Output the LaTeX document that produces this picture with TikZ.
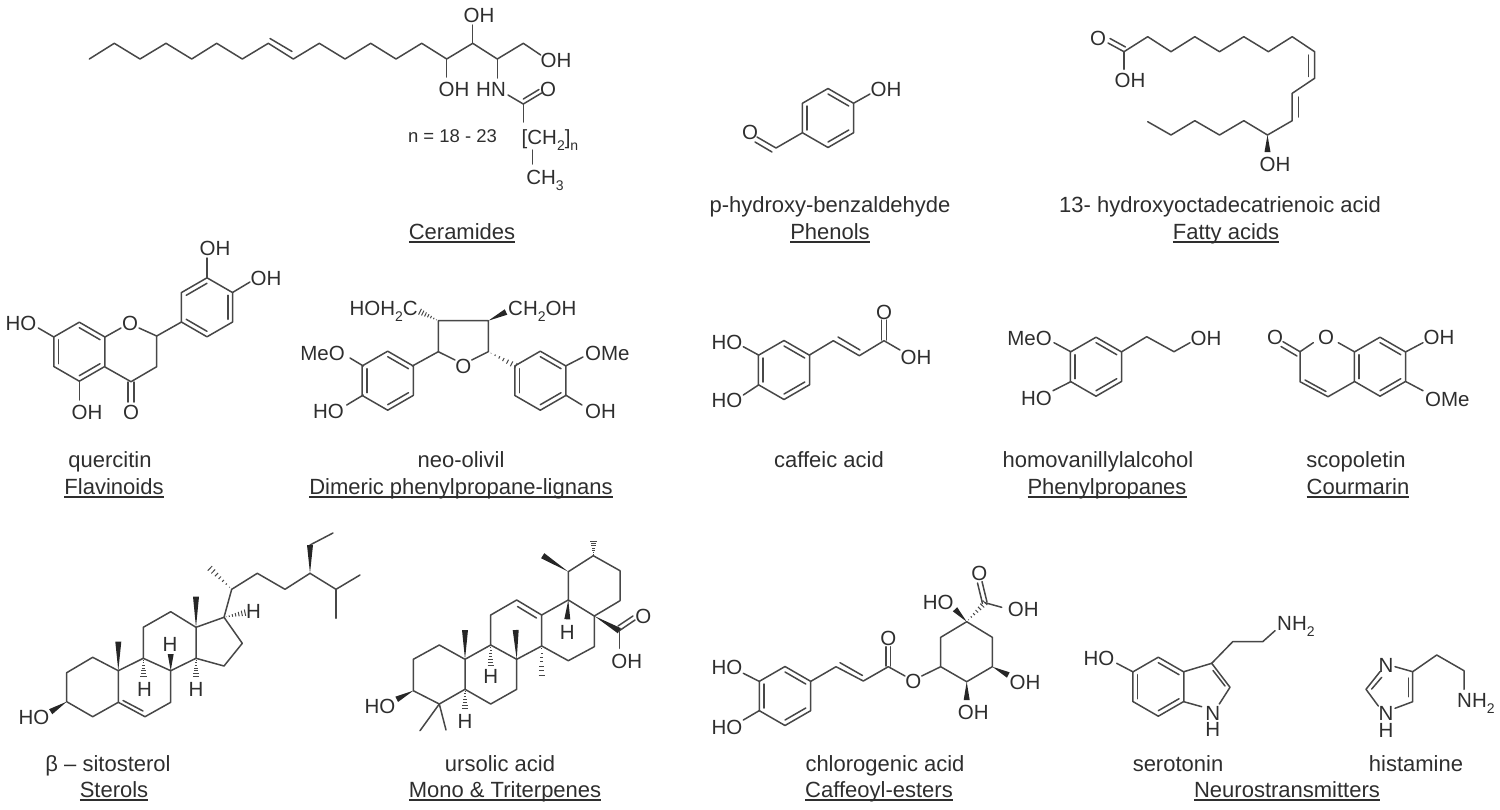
\documentclass[tikz,border=0pt]{standalone}
\usepackage{fontspec}
\setmainfont{Liberation Sans}
\usetikzlibrary{calc}
\newlength\capwd
\newcommand{\capul}[1]{\settowidth{\capwd}{#1}\rlap{\rule[-3.5pt]{\capwd}{1.3pt}}#1}
\newcommand{\sbs}[1]{\raisebox{-.28em}{\fontsize{14}{14}\selectfont #1}}
\newcommand{\benz}[3]{\begin{scope}[shift={(#1,#2)}]
    \draw [bond] (-90:29.5) -- (-30:29.5) -- (30:29.5) -- (90:29.5) -- (150:29.5) -- (210:29.5) -- cycle;
    \foreach \a in {#3} {\draw [bond] (\a:24) -- (\a+60:24);}
    \end{scope}}
\newcommand{\solidwedge}[2]{\fill [wedgefill] #1 -- ($#2!3pt!90:#1$) -- ($#2!3pt!-90:#1$) -- cycle;}
\newcommand{\hashwedge}[2]{\foreach \t in {.1,.25,.4,.55,.7,.85,1} {\draw [hashline] ($#1!\t!#2!\t*3.2pt!90:#1$) -- ($#1!\t!#2!\t*3.2pt!-90:#1$);}}
\tikzset{
    bond/.style={color=black!72, line width=1.5pt, line cap=round, line join=round},
    hashline/.style={color=black!72, line width=1pt},
    wedgefill/.style={fill=black!85},
    atom/.style={color=black!82, inner sep=0pt, text height=15pt, text depth=0pt, font=\fontsize{20.5}{24}\selectfont},
    nhatom/.style={color=black!82, inner sep=0pt, anchor=north, align=center, font=\fontsize{20.5}{16.5}\selectfont},
    capline/.style={color=black!82, inner sep=0pt, anchor=base, font=\fontsize{22}{26}\selectfont}
}
\begin{document}
\begin{tikzpicture}[x=1pt, y=-1pt]
    \useasboundingbox (0,0) rectangle (1500,809);

    \draw [bond] (89.3,59) -- (114.3,43.3) -- (140,59) -- (166,43.3) -- (191.7,59) -- (216.7,43.3) -- (242.3,59) -- (268.3,43.3) -- (293.3,59) -- (319.3,43.3) -- (345,59) -- (370.7,43.3) -- (396,59) -- (421.7,43.3) -- (446.7,59) -- (472.7,43.3) -- (497.3,59) -- (523.3,43.3) -- (540.7,55);
    \draw [bond] (270,38.5) -- (292,51.5);
    \draw [bond] (472.7,43.3) -- (472.7,25);
    \draw [bond] (446.7,59) -- (446.7,77);
    \draw [bond] (497.3,59) -- (497.3,78);
    \draw [bond] (508,95) -- (523.3,104) -- (541.7,93);
    \draw [bond] (523.3,99) -- (539,89.5);
    \draw [bond] (523.3,104) -- (523.3,122);
    \draw [bond] (532.7,150) -- (532.7,164);
    \node (ceroh1) at (479,15) [atom] {OH};
    \node (ceroh2) at (556,60) [atom] {OH};
    \node (ceroh3) at (454,89) [atom] {OH};
    \node (cernh) at (491,89) [atom] {HN};
    \node (cero) at (548,89) [atom] {O};
    \node (cerch2) at (521.5,137) [atom, anchor=west] {[CH\sbs{2}]\sbs{n}};
    \node (cerch3) at (545,177) [atom] {CH\sbs{3}};
    \node (cern) at (452.5,135) [atom, font=\fontsize{18.5}{20}\selectfont] {n = 18 - 23};
    \node (cercap) at (462,239) [capline] {\capul{Ceramides}};

    \benz{828}{118}{-90,30,150}
    \draw [bond] (854,103) -- (870,94);
    \draw [bond] (802,133) -- (776,148) -- (757,137);
    \draw [bond] (772,152) -- (755,142);
    \node (phoh) at (886,89) [atom] {OH};
    \node (pho) at (750,132) [atom] {O};
    \node (phname) at (830,212) [capline] {p-hydroxy-benzaldehyde};
    \node (phcap) at (830,239) [capline] {\capul{Phenols}};

    \draw [bond] (1108,43) -- (1124,51.7) -- (1147.7,36.7) -- (1171,51.7) -- (1194.8,36.7) -- (1219.5,51.7) -- (1243.8,36.7) -- (1268.4,51.7) -- (1292.2,36.7) -- (1314.6,51.7) -- (1314.6,78.3) -- (1292.2,93.3) -- (1292.2,120.7) -- (1267.5,135) -- (1243.8,120.7) -- (1219.5,135) -- (1194.8,120.7) -- (1171,135) -- (1147.7,121.7);
    \draw [bond] (1110,38.5) -- (1125.5,47);
    \draw [bond] (1124,51.7) -- (1124,69.3);
    \draw [bond] (1308.5,55) -- (1308.5,76.5);
    \draw [bond] (1298.5,97) -- (1298.5,117);
    \solidwedge{(1267.5,135)}{(1267.5,152)}
    \node (fao) at (1098,38) [atom] {O};
    \node (faoh1) at (1130,80) [atom] {OH};
    \node (faoh2) at (1275,164) [atom] {OH};
    \node (faname) at (1220,212) [capline] {13- hydroxyoctadecatrienoic acid};
    \node (facap) at (1226,239) [capline] {\capul{Fatty acids}};

    \benz{79.3}{351.7}{-90,30,150}
    \benz{207}{307.3}{-30,90,210}
    \draw [bond] (105,337) -- (121,328);
    \draw [bond] (139,328) -- (156.7,336) -- (156.7,366.7) -- (131,381.7) -- (105,367);
    \draw [bond] (156.7,336) -- (181.5,322);
    \draw [bond] (128,382) -- (128,402);
    \draw [bond] (134,382) -- (134,402);
    \draw [bond] (79.3,381.7) -- (79.3,400);
    \draw [bond] (53.8,337) -- (38.3,328);
    \draw [bond] (207,278) -- (207,258);
    \draw [bond] (232.5,292.5) -- (250,282);
    \node (flho) at (21,323) [atom] {HO};
    \node (flo1) at (130,323) [atom] {O};
    \node (flo2) at (131,412) [atom] {O};
    \node (floh1) at (87,412) [atom] {OH};
    \node (floh2) at (215,248) [atom] {OH};
    \node (floh3) at (266,278) [atom] {OH};
    \node (flname) at (110,467) [capline] {quercitin};
    \node (flcap) at (114,494) [capline] {\capul{Flavinoids}};

    \benz{387.7}{380.7}{-90,30,150}
    \benz{540.3}{380.7}{-90,30,150}
    \draw [bond] (412.3,366) -- (438.3,351.7) -- (438.3,320.7) -- (488.3,320.7) -- (488.3,351.7) -- (471.7,360);
    \draw [bond] (438.3,351.7) -- (455,360);
    \hashwedge{(488.3,351.7)}{(515.7,366)}
    \hashwedge{(438.3,320.7)}{(420,311.7)}
    \solidwedge{(488.3,320.7)}{(506,312)}
    \draw [bond] (363.3,366) -- (350,358);
    \draw [bond] (363.3,395) -- (346.7,405);
    \draw [bond] (565.5,366) -- (583,357);
    \draw [bond] (565.5,395) -- (582,405);
    \node (lgo) at (463.3,366) [atom] {O};
    \node (lgch1) at (418,308) [atom, anchor=east] {HOH\sbs{2}C};
    \node (lgch2) at (508,308) [atom, anchor=west] {CH\sbs{2}OH};
    \node (lgmeo) at (345,353) [atom, anchor=east] {MeO};
    \node (lgho) at (344,411) [atom, anchor=east] {HO};
    \node (lgome) at (585,353) [atom, anchor=west] {OMe};
    \node (lgoh) at (585,411) [atom, anchor=west] {OH};
    \node (lgname) at (461,467) [capline] {neo-olivil};
    \node (lgcap) at (461,494) [capline] {\capul{Dimeric phenylpropane-lignans}};

    \benz{784}{370}{-90,30,150}
    \draw [bond] (809.5,355) -- (833.3,340.7) -- (859.3,355.7) -- (884,340.7) -- (900,350);
    \draw [bond] (838,337) -- (860,350);
    \draw [bond] (881.7,340) -- (881.7,320);
    \draw [bond] (886.3,340) -- (886.3,320);
    \draw [bond] (758.5,355) -- (743.3,346.7);
    \draw [bond] (758.5,385) -- (743.3,395);
    \node (cfo) at (884,312) [atom] {O};
    \node (cfoh) at (916,357) [atom] {OH};
    \node (cfho1) at (727,342) [atom] {HO};
    \node (cfho2) at (727,400) [atom] {HO};
    \node (cfname) at (829,467) [capline] {caffeic acid};

    \benz{1096}{366.7}{-90,30,150}
    \draw [bond] (1121.7,351.7) -- (1146.7,336.7) -- (1174,351.7) -- (1190,342.7);
    \draw [bond] (1070.7,351.7) -- (1054,342.7);
    \draw [bond] (1070.7,381.7) -- (1053,390.7);
    \node (hvoh) at (1206,338) [atom] {OH};
    \node (hvmeo) at (1052,338) [atom, anchor=east] {MeO};
    \node (hvho) at (1052,398) [atom, anchor=east] {HO};
    \node (hvname) at (1098,467) [capline] {homovanillylalcohol};
    \node (hvcap) at (1107,494) [capline] {\capul{Phenylpropanes}};

    \benz{1380}{366.7}{-90,30,150}
    \draw [bond] (1354.3,351.7) -- (1338.3,342.7);
    \draw [bond] (1313.3,342.7) -- (1300,351.7) -- (1300,381.7) -- (1328,396.7) -- (1354.3,381.7);
    \draw [bond] (1300,351.7) -- (1283,341.7);
    \draw [bond] (1297,356) -- (1281,346.5);
    \draw [bond] (1305,380) -- (1326,391.5);
    \draw [bond] (1406,351.7) -- (1423,342.7);
    \draw [bond] (1406,381.7) -- (1423,390.7);
    \node (coo1) at (1326,337) [atom] {O};
    \node (coo2) at (1275,337) [atom] {O};
    \node (cooh) at (1439,337) [atom] {OH};
    \node (coome) at (1425,399) [atom, anchor=west] {OMe};
    \node (coname) at (1356,467) [capline] {scopoletin};
    \node (cocap) at (1358,494) [capline] {\capul{Courmarin}};

    \draw [bond] (118.3,670.7) -- (92.7,657.3) -- (66.7,672.7) -- (66.7,701.7) -- (92.7,716.7) -- (118.3,702.3) -- (118.3,670.7) -- (143.3,658.3) -- (170.7,670.7) -- (170.7,702.3) -- (145,716.7) -- (118.3,702.3);
    \draw [bond] (123,700.5) -- (143,711);
    \draw [bond] (143.3,658.3) -- (143.3,627.3) -- (170.7,611.7) -- (196,627.3) -- (196,658.3) -- (170.7,670.7);
    \draw [bond] (196,627.3) -- (224,617.3) -- (242.3,643.3) -- (224,666) -- (196,658.3);
    \draw [bond] (224,617.3) -- (231.7,589.3) -- (257.3,573.3) -- (285,589.3) -- (310,573.3) -- (336,589.3) -- (360,575);
    \draw [bond] (336,589.3) -- (336,618.3);
    \draw [bond] (310,545) -- (333,533);
    \solidwedge{(66.7,701.7)}{(50.7,711.7)}
    \solidwedge{(118.3,670.7)}{(118.3,641.7)}
    \solidwedge{(196,627.3)}{(196,596.7)}
    \solidwedge{(170.7,670.7)}{(170.7,654)}
    \solidwedge{(310,573.3)}{(310,545)}
    \hashwedge{(143.3,658.3)}{(143.3,676)}
    \hashwedge{(196,658.3)}{(196,676)}
    \hashwedge{(224,617.3)}{(245,612.7)}
    \hashwedge{(231.7,589.3)}{(210,568.3)}
    \node (stho) at (34,717) [atom] {HO};
    \node (sth1) at (144.5,688.5) [atom] {H};
    \node (sth2) at (170,643.5) [atom] {H};
    \node (sth3) at (196,688.5) [atom] {H};
    \node (sth4) at (253.5,611) [atom] {H};
    \node (stname) at (108,771) [capline] {β – sitosterol};
    \node (stcap) at (114,797) [capline] {\capul{Sterols}};

    \draw [bond] (465,659.3) -- (439.3,645) -- (413.3,659.3) -- (413.3,690.7) -- (439.3,704) -- (465,689.3) -- (465,659.3) -- (490.7,645) -- (516.7,659.3) -- (516.7,689.3) -- (490.7,704) -- (465,689.3);
    \draw [bond] (490.7,645) -- (490.7,615) -- (516.7,600) -- (541.7,615) -- (541.7,646) -- (516.7,659.3);
    \draw [bond] (517.5,606.5) -- (536.5,618);
    \draw [bond] (541.7,615) -- (568.3,600) -- (594.3,616) -- (594.3,646.7) -- (568.3,660.7) -- (541.7,646);
    \draw [bond] (568.3,600) -- (568.3,571.7) -- (593.3,555.7) -- (620,570.7) -- (620,600.7) -- (594.3,616);
    \draw [bond] (439.3,704) -- (420,730.7);
    \draw [bond] (439.3,704) -- (446,730);
    \draw [bond] (619.3,630.7) -- (635,620);
    \draw [bond] (618,626) -- (633,616);
    \draw [bond] (619.3,630.7) -- (619.3,648.3);
    \solidwedge{(413.3,690.7)}{(396.7,699.3)}
    \solidwedge{(465,659.3)}{(465,630)}
    \solidwedge{(516.7,659.3)}{(515.7,630)}
    \solidwedge{(568.3,600)}{(567.3,619.3)}
    \solidwedge{(568.3,571.7)}{(542.7,555.7)}
    \solidwedge{(594.3,616)}{(619.3,630.7)}
    \hashwedge{(541.7,646)}{(541.7,675)}
    \hashwedge{(490.7,645)}{(490.7,665)}
    \hashwedge{(465,689.3)}{(465,708)}
    \hashwedge{(593.3,555.7)}{(593.3,541.7)}
    \node (urho) at (380,706) [atom] {HO};
    \node (urh1) at (490.7,676) [atom] {H};
    \node (urh2) at (465,721) [atom] {H};
    \node (urh3) at (567.3,632) [atom] {H};
    \node (uro) at (643.3,616) [atom] {O};
    \node (uroh) at (626.7,661) [atom] {OH};
    \node (urname) at (500,771) [capline] {ursolic acid};
    \node (urcap) at (505,797) [capline] {\capul{Mono \& Triterpenes}};

    \benz{785}{696}{-90,30,150}
    \draw [bond] (810.5,681.5) -- (836,666.7) -- (863.3,681) -- (888.3,666.7) -- (905,676);
    \draw [bond] (840,662.7) -- (862.5,675.5);
    \draw [bond] (886,666) -- (886,646.7);
    \draw [bond] (890.5,666) -- (890.5,646.7);
    \draw [bond] (759.5,681.5) -- (743.3,673.3);
    \draw [bond] (759.5,710.5) -- (743.3,720);
    \draw [bond] (921.7,676) -- (940.7,666.7) -- (940.7,637.3) -- (966.7,621.7) -- (992.3,637.3) -- (992.3,666.7) -- (966.7,681.7) -- (940.7,666.7);
    \draw [bond] (982.5,603.5) -- (977.5,583);
    \draw [bond] (987,602) -- (982,581.5);
    \draw [bond] (985,602.7) -- (1001.7,607.3);
    \solidwedge{(966.7,681.7)}{(966.7,700)}
    \solidwedge{(992.3,666.7)}{(1008.3,675)}
    \solidwedge{(966.7,621.7)}{(955,609.3)}
    \hashwedge{(966.7,621.7)}{(985,602.7)}
    \node (chho1) at (727,667) [atom] {HO};
    \node (chho2) at (727,727) [atom] {HO};
    \node (cho1) at (888.3,638.3) [atom] {O};
    \node (cho2) at (913.3,680.7) [atom] {O};
    \node (chho3) at (938.3,601.7) [atom] {HO};
    \node (cho3) at (979.3,572.7) [atom] {O};
    \node (choh1) at (1023.3,609.3) [atom] {OH};
    \node (choh2) at (1025,682.3) [atom] {OH};
    \node (choh3) at (973.3,712.3) [atom] {OH};
    \node (chname) at (885,771) [capline] {chlorogenic acid};
    \node (chcap) at (879,797) [capline] {\capul{Caffeoyl-esters}};

    \benz{1158.3}{686.7}{-90,30,150}
    \draw [bond] (1132.7,671.7) -- (1116.7,663.3);
    \draw [bond] (1183.8,671.7) -- (1211.7,663.3) -- (1230,687.3) -- (1219.3,704);
    \draw [bond] (1201.7,706.7) -- (1183.8,701.7);
    \draw [bond] (1213,670.5) -- (1225,686);
    \draw [bond] (1211.7,663.3) -- (1232.7,641.7) -- (1262.7,641.7) -- (1275,630.7);
    \node (seho) at (1099,658) [atom] {HO};
    \node (senh) at (1212.7,706) [nhatom] {N\\H};
    \node (senh2) at (1277,623) [atom, anchor=west] {NH\sbs{2}};
    \node (sename) at (1178,771) [capline] {serotonin};

    \draw [bond] (1380,671.7) -- (1366,689.3) -- (1378.3,706);
    \draw [bond] (1381.7,677.3) -- (1371.7,689);
    \draw [bond] (1395,666.7) -- (1412.7,671.7) -- (1412.7,701.7) -- (1395,708.3);
    \draw [bond] (1408.5,678) -- (1408.5,696.7);
    \draw [bond] (1412.7,671.7) -- (1436.7,655) -- (1464,670.7) -- (1464,689.3);
    \node (hin1) at (1386,665) [atom] {N};
    \node (hinh) at (1386,706.5) [nhatom] {N\\H};
    \node (hinh2) at (1457,700) [atom, anchor=west] {NH\sbs{2}};
    \node (hiname) at (1416,771) [capline] {histamine};
    \node (hicap) at (1287,797) [capline] {\capul{Neurostransmitters}};
    \end{tikzpicture}
\end{document}
